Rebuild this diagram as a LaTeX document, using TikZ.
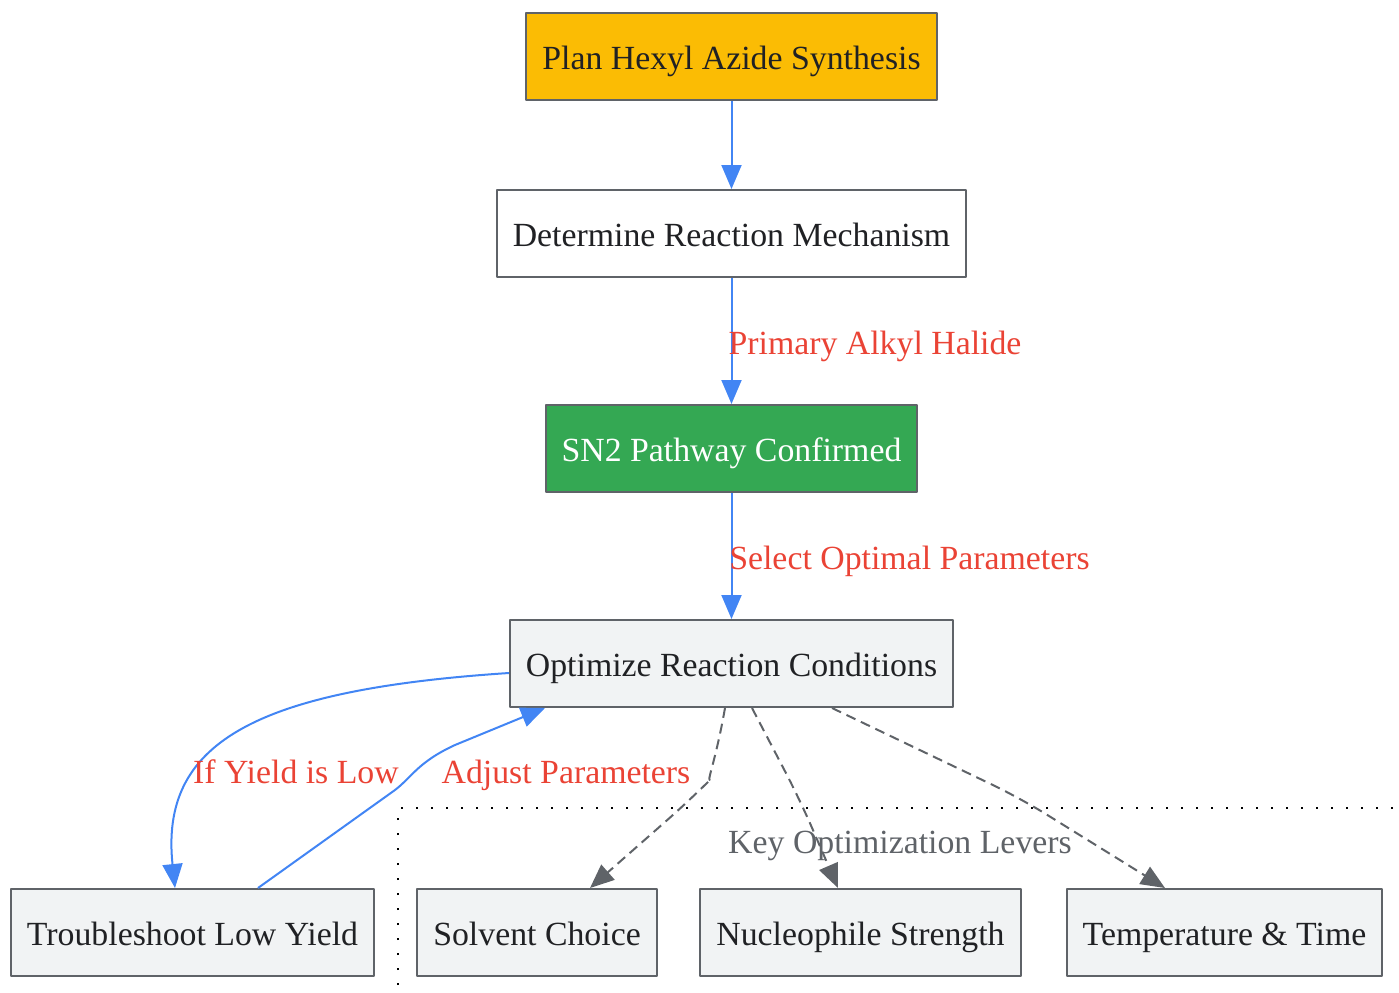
\documentclass[tikz,border=0pt]{standalone}
\usepackage{fontspec}
\setmainfont{Liberation Serif}
\usetikzlibrary{arrows.meta,positioning}
\definecolor{gyellow}{HTML}{FBBC04}
\definecolor{ggreen}{HTML}{34A853}
\definecolor{glight}{HTML}{F1F3F4}
\definecolor{ggray}{HTML}{5F6368}
\definecolor{gblue}{HTML}{4285F4}
\definecolor{gred}{HTML}{EA4335}
\definecolor{ink}{HTML}{202124}
\begin{document}
\begin{tikzpicture}[x=0.5pt,y=-0.5pt,line join=round,>={Triangle[length=12pt,width=10pt]}]
		\tikzset{txt/.style={font=\fontsize{16.9}{20}\selectfont,text height=13pt,text depth=0.5pt},
			box/.style={txt,draw=ggray,line width=1pt,minimum height=43.5pt,inner xsep=8pt,text=ink},
			flow/.style={->,draw=gblue,fill=gblue,line width=1pt},
			lever/.style={->,draw=ggray,line width=1pt,dash pattern=on 5pt off 3pt,rounded corners=15pt},
			lbl/.style={txt,text=gred}}
		\useasboundingbox (0,0) rectangle (1399,992);
		% main chain
		\node[box,fill=gyellow] (plan) at (731.5,56.5) {Plan Hexyl Azide Synthesis};
		\node[box,fill=white] (mech) at (731.5,233.5) {Determine Reaction Mechanism};
		\node[box,fill=ggreen,text=white] (sn) at (731.5,448.5) {SN2 Pathway Confirmed};
		\node[box,fill=glight] (opt) at (731.5,663.5) {Optimize Reaction Conditions};
		\node[box,fill=glight] (trouble) at (192.5,932.5) {Troubleshoot Low Yield};
		% levers
		\draw[black,line width=1.2pt,dash pattern=on 1.2pt off 6.3pt] (398,1000)--(398,808)--(1410,808);
		\node[txt,text=ggray] (levers) at (900,841) {Key Optimization Levers};
		\node[box,fill=glight] (solvent) at (537,932.5) {Solvent Choice};
		\node[box,fill=glight] (nucleo) at (860.5,932.5) {Nucleophile Strength};
		\node[box,fill=glight] (temp) at (1224.5,932.5) {Temperature \& Time};
		% edges
		\draw[flow] (plan)--(mech);
		\draw[flow] (mech)--(sn);
		\draw[flow] (sn)--(opt);
		\node[lbl] (halide) at (875,341.5) {Primary Alkyl Halide};
		\node[lbl] (select) at (909.5,556.5) {Select Optimal Parameters};
		\draw[flow,fill=none] ([yshift=-4.75pt]opt.west) .. controls (250,690) and (160,745) .. ([xshift=-8.75pt]trouble.north);
		\draw[flow,fill=none] ([xshift=32.75pt]trouble.north) -- (395,790) .. controls (412,777) and (418,762) .. (455,745) -- ([xshift=-93.25pt]opt.south);
		\node[lbl] (low) at (296,770.5) {If Yield is Low};
		\node[lbl] (adjust) at (566,770.5) {Adjust Parameters};
		\draw[lever] ([xshift=-3.25pt]opt.south) .. controls (715,765) and (705,785) .. (690,800) -- ([xshift=26.5pt]solvent.north);
		\draw[lever] ([xshift=10.25pt]opt.south) -- (800,800) -- ([xshift=-11.25pt]nucleo.north);
		\draw[lever] ([xshift=50.25pt]opt.south) -- (1020,798) -- ([xshift=-29.75pt]temp.north);
	\end{tikzpicture}
\end{document}
